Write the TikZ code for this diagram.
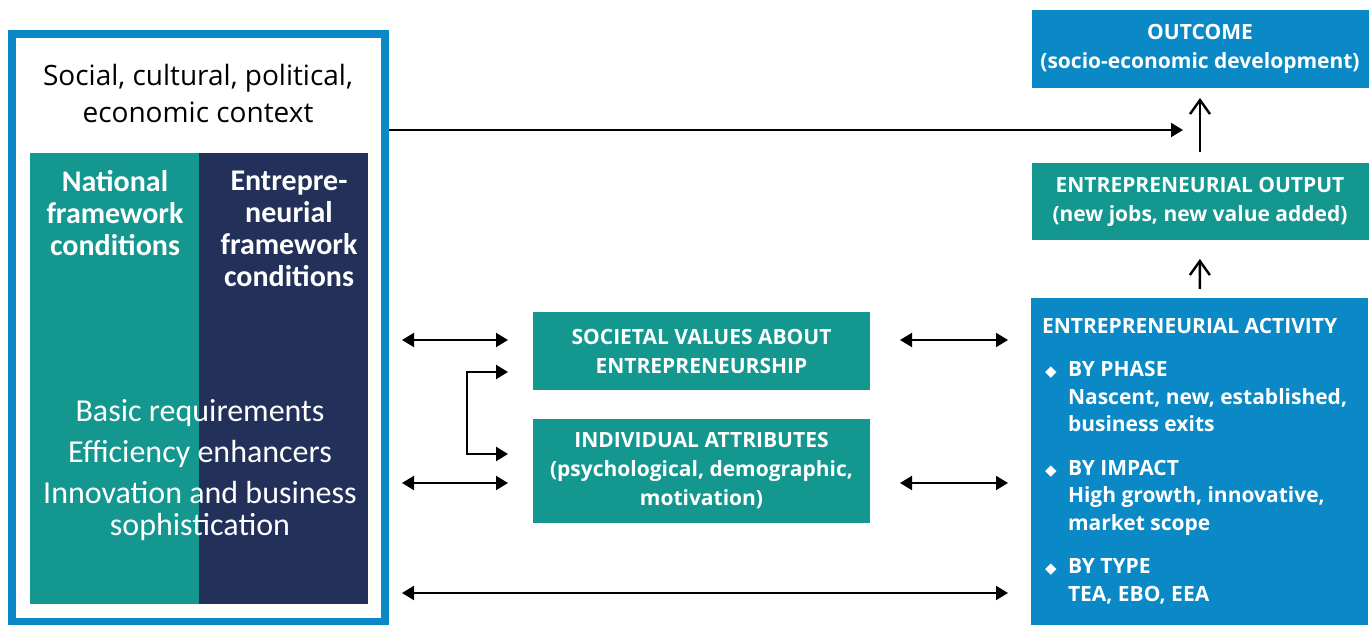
\documentclass[tikz,border=0pt]{standalone}
\usepackage{fontspec}
\setmainfont{Carlito}
\newfontfamily\boxfont{Open Sans}
\newfontfamily\symfont{DejaVu Sans}
\usetikzlibrary{arrows.meta,positioning}
\definecolor{gemblue}{HTML}{0A89C6}
\definecolor{gemteal}{HTML}{13978F}
\definecolor{gemnavy}{HTML}{22305A}
\newcommand{\bul}{\hspace*{1.5pt}\makebox[11.5pt][l]{\symfont\fontsize{7.5}{7.5}\selectfont ◆}}
\newcommand{\ind}{\hspace*{13pt}}

\begin{document}
\begin{tikzpicture}[x=0.5pt, y=-0.5pt, >={Triangle[length=6pt,width=7pt]}, line width=1pt,
    main node/.style={fill=gemteal, text=white, font=\boxfont\bfseries\fontsize{10.5}{14.5}\selectfont, align=center, minimum width=168.5pt, inner sep=0pt},
    blue node/.style={main node, fill=gemblue},
    col node/.style={minimum width=84.5pt, minimum height=225.5pt, inner sep=0pt, outer sep=0pt, anchor=north west},
    up arrow/.style={-{Straight Barb[length=7pt,width=10pt]}, line width=1.2pt}]
    \useasboundingbox (0,0) rectangle (1370,625);

    % context frame and the two columns
    \node[draw=gemblue, line width=4pt, minimum width=186.5pt, minimum height=293.5pt, inner sep=0pt] (1) at (198.5,328) {};
    \node[col node, fill=gemteal] (2) at (30,153) {};
    \node[col node, fill=gemnavy] (3) at (199,153) {};

    \node[font=\boxfont\fontsize{14}{18.5}\selectfont, align=center] (4) at (198,94) {Social, cultural, political,\\economic context};
    \node[text=white, font=\bfseries\fontsize{15}{16}\selectfont, align=center] (5) at (115,213) {National\\framework\\conditions};
    \node[text=white, font=\bfseries\fontsize{15}{16}\selectfont, align=center] (6) at (289,229) {Entrepre-\\neurial\\framework\\conditions};
    \node[text=white, font=\fontsize{16}{16}\selectfont, align=center] (7) at (200,470) {Basic requirements\\[4.5pt]Efficiency enhancers\\[4.5pt]Innovation and business\\sophistication};

    % boxes
    \node[blue node, minimum height=39pt] (8) at (1200,49) {OUTCOME\\(socio-economic development)};
    \node[main node, minimum height=38.5pt] (9) at (1200,201.5) {ENTREPRENEURIAL OUTPUT\\(new jobs, new value added)};
    \node[blue node, minimum height=163.5pt] (10) at (1199.5,461.5) {};
    \node[main node, minimum height=39pt] (11) at (701.5,351) {SOCIETAL VALUES ABOUT\\ENTREPRENEURSHIP};
    \node[main node, minimum height=52pt] (12) at (701.5,471) {INDIVIDUAL ATTRIBUTES\\(psychological, demographic,\\motivation)};

    \node[anchor=north west, text=white, font=\boxfont\bfseries\fontsize{10.5}{13.75}\selectfont, align=left, inner sep=0pt] (13) at (1041,317)
        {ENTREPRENEURIAL ACTIVITY\\[8pt]
         \bul BY PHASE\\ \ind Nascent, new, established,\\ \ind business exits\\[8pt]
         \bul BY IMPACT\\ \ind High growth, innovative,\\ \ind market scope\\[8pt]
         \bul BY TYPE\\ \ind TEA, EBO, EEA};

    % arrow ends
    \coordinate (a1) at (389,130);   \coordinate (a2) at (1183,130);
    \coordinate (b1) at (402,340);   \coordinate (b2) at (508,340);
    \coordinate (b3) at (402,483);   \coordinate (b4) at (508,483);
    \coordinate (b5) at (402,593);   \coordinate (b6) at (1008,593);
    \coordinate (c1) at (900,340);   \coordinate (c2) at (1008,340);
    \coordinate (c3) at (900,483);   \coordinate (c4) at (1008,483);
    \coordinate (d1) at (508,372);   \coordinate (d2) at (467,454);   \coordinate (d3) at (508,454);

    \draw[->] (a1) -- (a2);
    \path[<->]
        (b1) edge (b2)
        (b3) edge (b4)
        (b5) edge (b6)
        (c1) edge (c2)
        (c3) edge (c4)
    ;
    \draw[<->, line width=1.2pt] (d1) -| (d2) -- (d3);

    \draw[up arrow, shorten <=5pt, shorten >=4.5pt] (9) -- (8);
    \draw[up arrow, shorten <=4pt, shorten >=9pt] (10) -- (9);
\end{tikzpicture}
\end{document}
